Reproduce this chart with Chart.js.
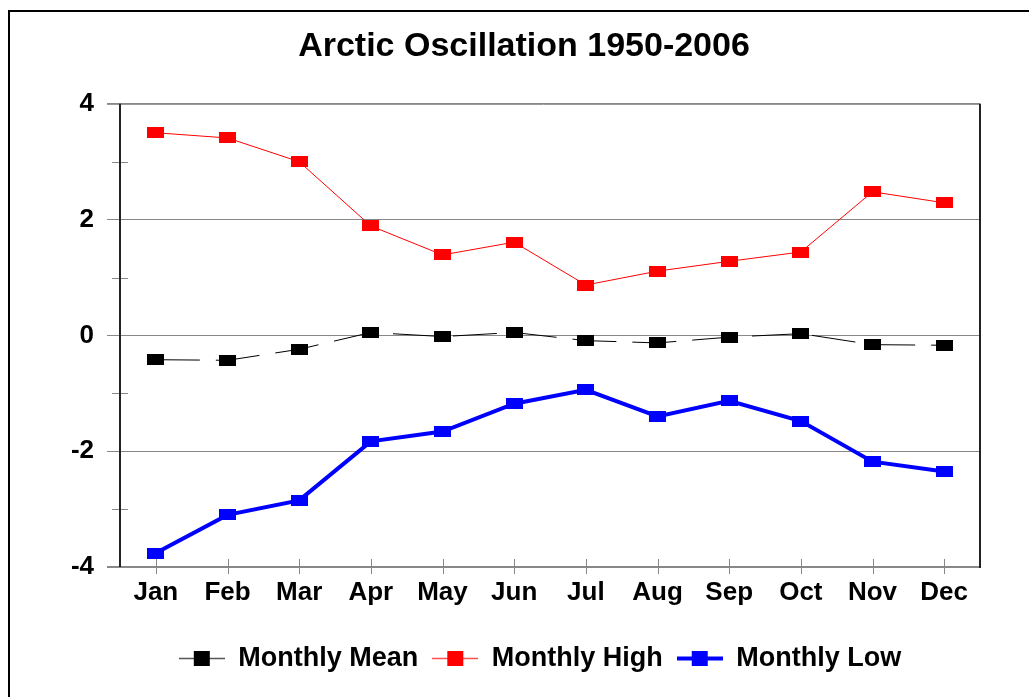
<!DOCTYPE html>
<html>
<head>
<meta charset="utf-8">
<script src="https://cdn.jsdelivr.net/npm/chart.js@4.4.1/dist/chart.umd.min.js"></script>
<style>
  html, body { margin: 0; padding: 0; background: #fff; overflow: hidden; }
  #frame { position: absolute; left: 8px; top: 10px; width: 1100px; height: 800px; border: 2px solid #000; }
  #wrap { position: absolute; left: 0; top: 0; width: 1029px; height: 697px; }
</style>
</head>
<body>
<div id="frame"></div>
<div id="wrap"><canvas id="aoChart" width="1029" height="697"></canvas></div>
<script>
// Data
const months = ['Jan', 'Feb', 'Mar', 'Apr', 'May', 'Jun', 'Jul', 'Aug', 'Sep', 'Oct', 'Nov', 'Dec'];
const monthlyMean = [-0.42, -0.43, -0.24, 0.05, -0.02, 0.05, -0.09, -0.13, -0.03, 0.03, -0.16, -0.17];
const monthlyHigh = [3.50, 3.41, 3.00, 1.89, 1.39, 1.61, 0.87, 1.11, 1.28, 1.44, 2.48, 2.29];
const monthlyLow = [-3.76, -3.10, -2.85, -1.83, -1.66, -1.18, -0.94, -1.40, -1.13, -1.48, -2.18, -2.35];
const yLabelValues = [-4, -2, 0, 2, 4];

Chart.defaults.font.family = "'Liberation Sans', Arial, sans-serif";
Chart.defaults.color = '#000';

// square-ish markers, and legend icons with a line through them
function makeIcon(fill, w, h, lineColor, lineWidth, sampleWidth) {
  const c = document.createElement('canvas');
  const cw = sampleWidth || w;
  c.width = cw;
  c.height = h;
  const g = c.getContext('2d');
  if (sampleWidth) {
    g.strokeStyle = lineColor;
    g.lineWidth = lineWidth;
    g.beginPath();
    g.moveTo(0, h / 2);
    g.lineTo(cw, h / 2);
    g.stroke();
  }
  g.fillStyle = fill;
  g.fillRect((cw - w) / 2, 0, w, h);
  return c;
}

const markers = [
  makeIcon('#000', 17, 11),
  makeIcon('#ff0000', 17, 11),
  makeIcon('#0000ff', 17, 11)
];
const legendIcons = [
  makeIcon('#000', 16, 15, '#555', 1.5, 46),
  makeIcon('#ff0000', 16, 15, '#ff5050', 1.5, 46),
  makeIcon('#0000ff', 16, 15, '#0000ff', 4, 46)
];

const axisFrame = {
  id: 'axisFrame',
  afterLayout(chart) {
    // legend sits a little right of the title in the original
    chart.legend.left += 16;
    chart.legend.right += 16;
  },
  beforeDatasetsDraw(chart) {
    const {ctx, chartArea: a, scales: {x, y}} = chart;
    ctx.save();
    ctx.lineWidth = 1;
    // minor ticks on the value axis
    ctx.strokeStyle = '#888';
    y.ticks.forEach(t => {
      if (!yLabelValues.includes(t.value)) {
        const py = Math.round(y.getPixelForValue(t.value)) + 0.5;
        ctx.beginPath();
        ctx.moveTo(a.left - 8, py);
        ctx.lineTo(a.left + 8, py);
        ctx.stroke();
      }
    });
    // month ticks crossing the bottom axis
    ctx.strokeStyle = '#888';
    months.forEach((m, i) => {
      const px = Math.round(x.getPixelForValue(i)) + 0.5;
      ctx.beginPath();
      ctx.moveTo(px, a.bottom - 8);
      ctx.lineTo(px, a.bottom + 7);
      ctx.stroke();
    });
    // plot border
    ctx.strokeStyle = '#999';
    ctx.beginPath();
    ctx.moveTo(a.left - 13, Math.round(a.top) + 0.5);
    ctx.lineTo(a.right, Math.round(a.top) + 0.5);
    ctx.stroke();
    ctx.lineWidth = 2;
    ctx.strokeStyle = '#888';
    ctx.beginPath();
    ctx.moveTo(a.left - 13, Math.round(a.bottom));
    ctx.lineTo(a.right, Math.round(a.bottom));
    ctx.stroke();
    ctx.strokeStyle = '#222';
    ctx.beginPath();
    ctx.moveTo(Math.round(a.left), a.top);
    ctx.lineTo(Math.round(a.left), a.bottom);
    ctx.moveTo(Math.round(a.right), a.top);
    ctx.lineTo(Math.round(a.right), a.bottom + 1);
    ctx.stroke();
    ctx.restore();
  }
};

const aoCtx = document.getElementById('aoChart').getContext('2d');
const aoChart = new Chart(aoCtx, {
  type: 'line',
  data: {
    labels: months,
    datasets: [{
      label: 'Monthly Mean',
      data: monthlyMean,
      borderColor: '#000',
      borderWidth: 1,
      borderDash: [44, 16],
      pointStyle: markers[0],
      tension: 0
    }, {
      label: 'Monthly High',
      data: monthlyHigh,
      borderColor: '#ff0000',
      borderWidth: 1,
      pointStyle: markers[1],
      tension: 0
    }, {
      label: 'Monthly Low',
      data: monthlyLow,
      borderColor: '#0000ff',
      borderWidth: 4,
      pointStyle: markers[2],
      tension: 0
    }]
  },
  options: {
    responsive: false,
    animation: false,
    layout: {
      padding: { left: 68, right: 49, top: 0, bottom: 15 }
    },
    plugins: {
      title: {
        display: true,
        text: 'Arctic Oscillation 1950-2006',
        color: '#000',
        font: { size: 34, weight: 'bold' },
        padding: { top: 26, bottom: 37 }
      },
      legend: {
        position: 'bottom',
        labels: {
          color: '#000',
          font: { size: 27, weight: 'bold' },
          usePointStyle: true,
          pointStyleWidth: 46,
          padding: 14,
          generateLabels: chart => Chart.defaults.plugins.legend.labels.generateLabels(chart)
            .map((item, i) => Object.assign(item, { pointStyle: legendIcons[i] }))
        }
      },
      tooltip: {
        enabled: false
      }
    },
    scales: {
      x: {
        offset: true,
        grid: { display: false },
        border: { display: false },
        ticks: {
          color: '#000',
          font: { size: 26, weight: 'bold' },
          padding: 2,
          maxRotation: 0
        },
        afterFit: scale => { scale.height = 64; }
      },
      y: {
        min: -4,
        max: 4,
        border: { display: false },
        grid: {
          color: c => yLabelValues.includes(c.tick.value) ? '#888' : 'rgba(0,0,0,0)',
          tickLength: 13
        },
        ticks: {
          stepSize: 1,
          color: '#000',
          font: { size: 26, weight: 'bold' },
          padding: 13,
          callback: v => yLabelValues.includes(v) ? v : ''
        },
        afterFit: scale => { scale.width = 52; }
      }
    }
  },
  plugins: [axisFrame]
});
</script>
</body>
</html>
